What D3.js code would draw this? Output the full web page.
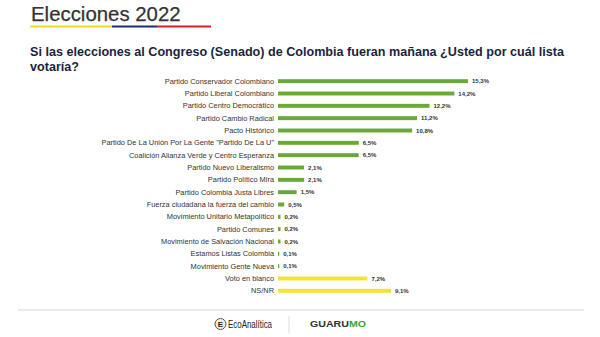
<!DOCTYPE html>
<html>
<head>
<meta charset="utf-8">
<script src="https://cdn.jsdelivr.net/npm/d3@7"></script>
<style>
  body { margin: 0; background: #fff; }
  svg { display: block; font-family: "Liberation Sans", Arial, sans-serif; }
</style>
</head>
<body>
<svg id="chart" width="600" height="337"></svg>
<script>
const parties = [
  'Partido Conservador Colombiano',
  'Partido Liberal Colombiano',
  'Partido Centro Democrático',
  'Partido Cambio Radical',
  'Pacto Histórico',
  'Partido De La Unión Por La Gente "Partido De La U"',
  'Coalición Alianza Verde y Centro Esperanza',
  'Partido Nuevo Liberalismo',
  'Partido Político Mira',
  'Partido Colombia Justa Libres',
  'Fuerza ciudadana la fuerza del cambio',
  'Movimiento Unitario Metapolítico',
  'Partido Comunes',
  'Movimiento de Salvación Nacional',
  'Estamos Listas Colombia',
  'Movimiento Gente Nueva',
  'Voto en blanco',
  'NS/NR'
];
const shares = [15.3, 14.2, 12.2, 11.2, 10.8, 6.5, 6.5, 2.1, 2.1, 1.5, 0.5, 0.2, 0.2, 0.2, 0.1, 0.1, 7.2, 9.1];
const nonParty = ['Voto en blanco', 'NS/NR'];

const svg = d3.select('#chart');

// header
svg.append('text')
  .attr('x', 31).attr('y', 21)
  .attr('font-size', 20.4).attr('fill', '#333')
  .attr('stroke', '#333').attr('stroke-width', 0.25)
  .text('Elecciones 2022');

const stripe = [['#f2dc1c', 30, 112], ['#1f2a6e', 112, 157], ['#d8202a', 157, 211]];
stripe.forEach(([c, x0, x1]) => {
  svg.append('rect').attr('x', x0).attr('y', 25.5).attr('width', x1 - x0).attr('height', 2).attr('fill', c);
});

const sub = svg.append('text')
  .attr('font-size', 12.6).attr('font-weight', 'bold').attr('fill', '#1c1f3f');
sub.append('tspan').attr('x', 30).attr('y', 56)
  .text('Si las elecciones al Congreso (Senado) de Colombia fueran mañana ¿Usted por cuál lista');
sub.append('tspan').attr('x', 30).attr('y', 71).text('votaría?');

// bars
const x = d3.scaleLinear().domain([0, 15.3]).range([278, 468]);
const y = d3.scaleBand().domain(parties).range([75, 297]).paddingInner(0.68).paddingOuter(0.34);

const rows = svg.append('g').selectAll('g')
  .data(parties.map((p, i) => ({ p, v: shares[i] })))
  .join('g');

rows.append('rect')
  .attr('x', x(0))
  .attr('y', d => y(d.p))
  .attr('width', d => x(d.v) - x(0))
  .attr('height', y.bandwidth())
  .attr('fill', d => nonParty.includes(d.p) ? '#f4e430' : '#6aa936');

rows.append('text')
  .attr('x', 274)
  .attr('y', d => y(d.p) + y.bandwidth() / 2)
  .attr('dy', '0.35em')
  .attr('text-anchor', 'end')
  .attr('font-size', 7.4)
  .attr('fill', '#333')
  .text(d => d.p);

rows.append('text')
  .attr('x', d => x(d.v) + 4)
  .attr('y', d => y(d.p) + y.bandwidth() / 2)
  .attr('dy', '0.35em')
  .attr('font-size', 6)
  .attr('font-weight', 'bold')
  .attr('fill', '#333')
  .text(d => d3.format('.1f')(d.v).replace('.', ',') + '%');

// footer
svg.append('line')
  .attr('x1', 18).attr('x2', 584).attr('y1', 310).attr('y2', 310)
  .attr('stroke', '#d6d6d6').attr('stroke-width', 1);

const eco = svg.append('g');
eco.append('circle').attr('cx', 220.5).attr('cy', 324).attr('r', 5.5)
  .attr('fill', '#f3f0dc').attr('stroke', '#555').attr('stroke-width', 1);
eco.append('text').attr('x', 220.5).attr('y', 327).attr('text-anchor', 'middle')
  .attr('font-size', 8).attr('font-weight', 'bold').attr('fill', '#222').text('E');
eco.append('text').attr('x', 228).attr('y', 327.5)
  .attr('font-size', 10).attr('fill', '#222')
  .attr('textLength', 44).attr('lengthAdjust', 'spacingAndGlyphs')
  .text('EcoAnalítica');

svg.append('line')
  .attr('x1', 289).attr('x2', 289).attr('y1', 316).attr('y2', 333)
  .attr('stroke', '#ddd');

const gua = svg.append('text').attr('x', 310).attr('y', 327)
  .attr('font-size', 8.5).attr('font-weight', 'bold')
  .attr('textLength', 56).attr('lengthAdjust', 'spacingAndGlyphs');
gua.append('tspan').attr('fill', '#333').text('GUARU');
gua.append('tspan').attr('fill', '#3aa335').text('MO');
</script>
</body>
</html>
